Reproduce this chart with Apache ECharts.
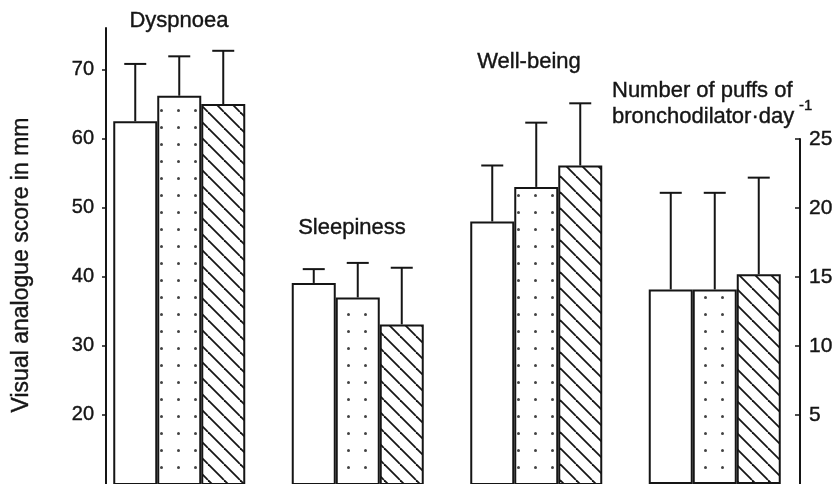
<!DOCTYPE html>
<html>
<head>
<meta charset="utf-8">
<script src="https://cdn.jsdelivr.net/npm/echarts@6/dist/echarts.min.js"></script>
<style>
  html, body { margin: 0; padding: 0; background: #fff; }
  #chart { width: 837px; height: 484px; }
</style>
</head>
<body>
<div id="chart"></div>
<script>
// groups on the x axis (the last one is read on the right axis)
var categories = ['Dyspnoea', 'Sleepiness', 'Well-being', 'Puffs'];

// visual analogue scores (mm), mean and upper error (SD) per treatment
var plainMean = [62.5, 39.1, 48.0];
var plainSD = [8.3, 2.0, 8.1];
var dottedMean = [66.2, 37.0, 53.0];
var dottedSD = [5.7, 5.0, 9.3];
var hatchedMean = [65.0, 33.1, 56.1];
var hatchedSD = [7.7, 8.2, 9.0];

// number of puffs of bronchodilator per day (plain, dotted, hatched)
var puffsMean = [14.1, 14.1, 15.2];
var puffsSD = [7.0, 7.0, 7.0];

// tick labels
var leftTicks = [20, 30, 40, 50, 60, 70];
var rightTicks = [5, 10, 15, 20, 25];

var FONT = 'Liberation Sans, Arial, Helvetica, sans-serif';
var INK = '#151515';
var BAR_W = 44;

// fill patterns
function dotPattern() {
  var c = document.createElement('canvas');
  c.width = 17; c.height = 17;
  var ctx = c.getContext('2d');
  ctx.fillStyle = '#fff';
  ctx.fillRect(0, 0, 17, 17);
  ctx.fillStyle = '#444';
  ctx.beginPath();
  ctx.arc(8.5, 8.5, 1.5, 0, Math.PI * 2);
  ctx.fill();
  return c;
}
function hatchPattern() {
  var s = 16;
  var c = document.createElement('canvas');
  c.width = s; c.height = s;
  var ctx = c.getContext('2d');
  ctx.fillStyle = '#fff';
  ctx.fillRect(0, 0, s, s);
  ctx.strokeStyle = INK;
  ctx.lineWidth = 1.8;
  [-s, 0, s].forEach(function (k) {
    ctx.beginPath();
    ctx.moveTo(k, 0);
    ctx.lineTo(k + s, s);
    ctx.stroke();
  });
  return c;
}

var fills = [
  '#fff',
  { image: dotPattern(), repeat: 'repeat' },
  { image: hatchPattern(), repeat: 'repeat' }
];

// pad the left-panel arrays with a gap for the puffs group and vice versa
function leftData(arr) { return arr.concat([null]); }
function rightData(v) { return [null, null, null, v]; }

function barSeries(name, data, idx, axisIdx) {
  return {
    name: name,
    type: 'bar',
    xAxisIndex: axisIdx,
    yAxisIndex: axisIdx,
    data: data,
    barWidth: BAR_W,
    barGap: '0%',
    itemStyle: { color: fills[idx], borderColor: INK, borderWidth: 2 },
    silent: true,
    z: 2
  };
}

// one-sided error bar (mean -> mean + SD) with a cap
function errSeries(means, sds, idx, axisIdx, catOffset) {
  var data = means.map(function (m, i) { return [i + catOffset, m, m + sds[i]]; });
  return {
    type: 'custom',
    xAxisIndex: axisIdx,
    yAxisIndex: axisIdx,
    data: data,
    silent: true,
    z: 1,
    renderItem: function (params, api) {
      var base = api.coord([api.value(0), api.value(1)]);
      var top = api.coord([api.value(0), api.value(2)]);
      var x = base[0] + (idx - 1) * BAR_W;
      var style = { stroke: INK, lineWidth: 2 };
      return {
        type: 'group',
        children: [
          { type: 'line', shape: { x1: x, y1: base[1], x2: x, y2: top[1] }, style: style },
          { type: 'line', shape: { x1: x - 11, y1: top[1], x2: x + 11, y2: top[1] }, style: style }
        ]
      };
    }
  };
}

var chart = echarts.init(document.getElementById('chart'), null, { renderer: 'canvas' });

var hiddenX = function (gi) {
  return {
    type: 'category',
    gridIndex: gi,
    data: categories,
    axisLine: { show: false },
    axisTick: { show: false },
    axisLabel: { show: false },
    splitLine: { show: false }
  };
};

// text helper: slightly heavier than plain regular, like the printed figure
function label(text, x, y, size, align, extra) {
  var el = {
    type: 'text', x: x, y: y,
    style: {
      text: text, font: size + 'px ' + FONT, fill: INK,
      stroke: INK, lineWidth: 0.4,
      align: align, verticalAlign: 'middle'
    }
  };
  return Object.assign(el, extra || {});
}

var option = {
  backgroundColor: '#fff',
  animation: false,
  grid: [
    { left: 90, right: 33, top: 28, bottom: -1 },
    { left: 90, right: 33, top: 139, bottom: -1 }
  ],
  xAxis: [hiddenX(0), hiddenX(1)],
  yAxis: [
    {
      type: 'value',
      gridIndex: 0,
      position: 'left',
      offset: -16,
      min: 10,
      max: 76,
      axisLine: { show: true, lineStyle: { color: INK, width: 2 } },
      axisTick: { show: true, length: 4, customValues: leftTicks, lineStyle: { color: INK, width: 1.5 } },
      axisLabel: { customValues: leftTicks, color: INK, fontFamily: FONT, fontSize: 20, margin: 12,
        textBorderColor: INK, textBorderWidth: 0.4 },
      splitLine: { show: false }
    },
    {
      type: 'value',
      gridIndex: 1,
      position: 'right',
      offset: -4,
      min: 0,
      max: 25,
      axisLine: { show: true, lineStyle: { color: INK, width: 2 } },
      axisTick: { show: true, inside: true, length: 5, customValues: rightTicks, lineStyle: { color: INK, width: 1.5 } },
      axisLabel: { customValues: rightTicks, color: INK, fontFamily: FONT, fontSize: 21, margin: 9,
        textBorderColor: INK, textBorderWidth: 0.4 },
      splitLine: { show: false }
    }
  ],
  graphic: [
    label('Dyspnoea', 179, 21, 22, 'center'),
    label('Sleepiness', 352, 228, 22, 'center'),
    label('Well-being', 529, 62, 22, 'center'),
    label('Number of puffs of', 612, 91, 22, 'left'),
    label('bronchodilator\u00b7day', 612, 117, 22, 'left'),
    label('-1', 799, 106, 15, 'left'),
    label('Visual analogue score in mm', 22, 265, 23, 'center', { rotation: Math.PI / 2 })
  ],
  series: [
    barSeries('plain', leftData(plainMean), 0, 0),
    barSeries('dotted', leftData(dottedMean), 1, 0),
    barSeries('hatched', leftData(hatchedMean), 2, 0),
    barSeries('plain', rightData(puffsMean[0]), 0, 1),
    barSeries('dotted', rightData(puffsMean[1]), 1, 1),
    barSeries('hatched', rightData(puffsMean[2]), 2, 1),
    errSeries(plainMean, plainSD, 0, 0, 0),
    errSeries(dottedMean, dottedSD, 1, 0, 0),
    errSeries(hatchedMean, hatchedSD, 2, 0, 0),
    errSeries([puffsMean[0]], [puffsSD[0]], 0, 1, 3),
    errSeries([puffsMean[1]], [puffsSD[1]], 1, 1, 3),
    errSeries([puffsMean[2]], [puffsSD[2]], 2, 1, 3)
  ]
};

chart.setOption(option);
</script>
</body>
</html>
